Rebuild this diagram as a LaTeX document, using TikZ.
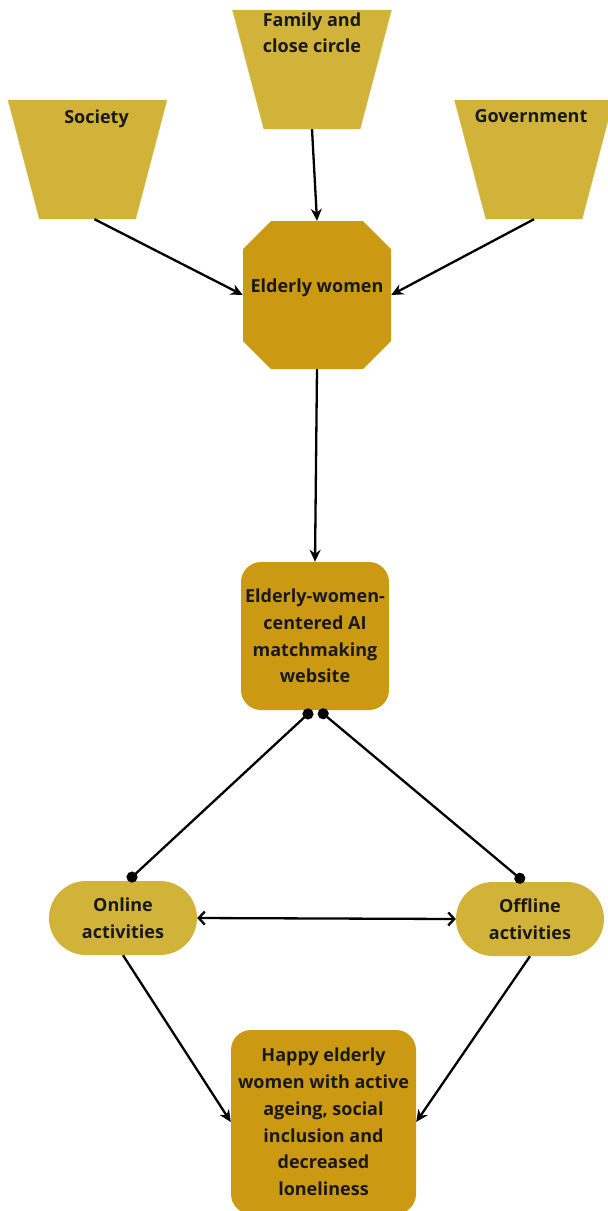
\documentclass[tikz,border=0pt]{standalone}
\usepackage{fontspec}
\setmainfont{Open Sans}
\usetikzlibrary{shapes.geometric}
\usetikzlibrary{arrows.meta}
\definecolor{Light}{HTML}{D1B33A}
\definecolor{Dark}{HTML}{CC9A12}
\tikzset{
	every node/.style={font=\bfseries\fontsize{18}{26.8}\selectfont, align=center, text=black!90},
	source/.style={trapezium, shape border rotate=180, trapezium left angle=72, trapezium right angle=72, trapezium stretches=true, fill=Light, draw=Light!85!white, minimum width=159pt, minimum height=119pt, inner sep=2pt},
	octobox/.style={rectangle, minimum width=148pt, minimum height=148pt, inner sep=2pt,
		path picture={\fill[Dark] ([xshift=28pt]path picture bounding box.north west) -- ([xshift=-28pt]path picture bounding box.north east) -- ([yshift=-28pt]path picture bounding box.north east) -- ([yshift=28pt]path picture bounding box.south east) -- ([xshift=-28pt]path picture bounding box.south east) -- ([xshift=28pt]path picture bounding box.south west) -- ([yshift=28pt]path picture bounding box.south west) -- ([yshift=-28pt]path picture bounding box.north west) -- cycle;}},
	topic/.style={rectangle, rounded corners=20pt, fill=Dark, minimum width=148pt, minimum height=148pt, inner sep=2pt},
	activity/.style={rectangle, rounded corners=37pt, fill=Light, minimum width=148pt, minimum height=74pt, inner sep=2pt},
	link/.style={line width=2.3pt, -{Stealth[length=12pt,width=11pt]}},
	dotlink/.style={line width=2.3pt, {Circle[length=11pt]}-{Circle[length=11pt]}},
}
\begin{document}
\begin{tikzpicture}[x=1pt,y=-1pt]
	\useasboundingbox (0,0) rectangle (608,1211);
	% the three sources
	\node (soc) [source,label={[anchor=north,yshift=-6pt,xshift=9pt]90:Society}] at (87.5,159.5) {};
	\node (fam) [source,label={[anchor=north,yshift=1pt]90:Family and\\close circle}] at (312,69.5) {};
	\node (gov) [source,label={[anchor=north,yshift=-6pt,xshift=-3pt]90:Government}] at (534,159.5) {};
	\node (ew) [octobox] at (317,295) {\raisebox{19pt}{Elderly women}};
	\node (web) [topic] at (315,636) {Elderly-women-\\centered AI\\matchmaking\\website};
	\node (onl) [activity] at (123,918) {Online\\activities};
	\node (off) [activity] at (530,919) {Offline\\activities};
	\node (hap) [topic,minimum width=185pt,minimum height=184pt] at (323.5,1122) {Happy elderly\\women with active\\ageing, social\\inclusion and\\decreased\\loneliness};
	% connectors
	\draw [link] ([xshift=7pt]soc.south) -- (ew.west);
	\draw [link] (fam.south) -- (ew.north);
	\draw [link] (gov.south) -- (ew.east);
	\draw [link] (ew.south) -- (web.north);
	\draw [dotlink] ([xshift=-3pt]web.south) -- ([xshift=5pt]onl.north);
	\draw [dotlink] ([xshift=4pt]web.south) -- ([xshift=-6pt]off.north);
	\draw [line width=2.3pt, {Straight Barb[length=6pt,width=13pt]}-{Straight Barb[length=6pt,width=13pt]}] (onl.east) -- (off.west);
	\draw [link] (onl.south) -- (hap.west);
	\draw [link] (off.south) -- (hap.east);
\end{tikzpicture}
\end{document}
